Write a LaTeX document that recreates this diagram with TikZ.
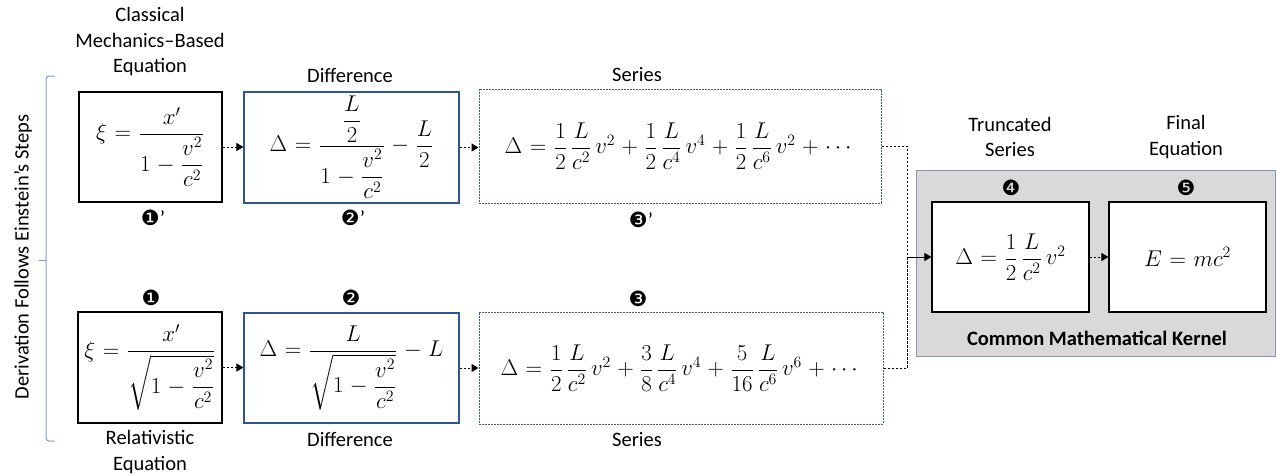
\documentclass[tikz,border=0pt]{standalone}
\usepackage{amsmath}
\usepackage{fontspec}
\setmainfont{Carlito}
\newfontfamily\dingfont{DejaVu Sans}
\usetikzlibrary{arrows.meta}
\definecolor{boxblue}{HTML}{2F5597}
\definecolor{dashblue}{HTML}{3C5A8C}
\definecolor{bracecol}{HTML}{7F9CC8}
\definecolor{kernfill}{HTML}{D9D9D9}
\definecolor{kernline}{HTML}{8497B0}
\newcommand{\circnum}[1]{{\dingfont #1}}
\newcommand{\eqsp}{\thickmuskip=6mu plus 2mu\medmuskip=5mu plus 2mu}
\newcommand{\bigeq}[1]{\scalebox{1.1}{$\eqsp #1$}}
\begin{document}
\begin{tikzpicture}[x=1pt,y=-1pt,
  lbl/.style={font=\fontsize{20.5}{25.5}\selectfont, align=center, inner sep=0pt},
  num/.style={font=\fontsize{21}{24}\selectfont, inner sep=0pt},
  eq/.style={font=\fontsize{20}{24}\selectfont, inner sep=0pt},
  blackbox/.style={eq, draw=black, line width=1.1pt, fill=white},
  bluebox/.style={eq, draw=boxblue, line width=1.1pt},
  dashbox/.style={eq, draw=dashblue, line width=1pt, dash pattern=on 2pt off 1pt},
  conn/.style={line width=1pt, dash pattern=on 2.5pt off 1.5pt},
  tip/.style={-{Triangle[length=7pt,width=8pt]}}
]
\useasboundingbox (0,0) rectangle (1276,475);

% left bracket and side label
\draw[bracecol, line width=1pt, rounded corners=3pt] (55,76) -- (46,76) -- (46,441) -- (55,441);
\draw[bracecol, line width=1pt] (46,260) -- (39,260);
\node[lbl, rotate=90] (side) at (23,257) {Derivation Follows Einstein’s Steps};

% kernel background
\node[draw=kernline, fill=kernfill, line width=1pt, minimum width=359pt, minimum height=186pt, inner sep=0pt] (kern) at (1095.5,263) {};
\node[lbl, font=\fontsize{20.5}{25.5}\selectfont\bfseries] (kernlbl) at (1097,338) {Common Mathematical Kernel};

% top row
\node[blackbox, minimum width=143pt, minimum height=110pt] (b1p) at (150.5,147)
  {\bigeq{\xi=\dfrac{x'}{1-\dfrac{v^2}{c^2}}}};
\node[bluebox, minimum width=215pt, minimum height=111pt] (b2p) at (351.5,147.5)
  {\bigeq{\Delta=\dfrac{\dfrac{L}{2}}{1-\dfrac{v^2}{c^2}}-\dfrac{L}{2}}};
\node[dashbox, minimum width=402pt, minimum height=114pt] (b3p) at (680,146)
  {\bigeq{\Delta=\dfrac{1}{2}\,\dfrac{L}{c^2}\,v^2+\dfrac{1}{2}\,\dfrac{L}{c^4}\,v^4+\dfrac{1}{2}\,\dfrac{L}{c^6}\,v^2+\cdots}};

% bottom row
\node[blackbox, minimum width=144pt, minimum height=111pt] (b1) at (150,367.5)
  {\bigeq{\xi=\dfrac{x'}{\sqrt{1-\dfrac{v^2}{c^2}}}}};
\node[bluebox, minimum width=215pt, minimum height=110pt] (b2) at (351.5,368)
  {\bigeq{\Delta=\dfrac{L}{\sqrt{1-\dfrac{v^2}{c^2}}}-L}};
\node[dashbox, minimum width=404pt, minimum height=112pt] (b3) at (681,368)
  {\bigeq{\Delta=\dfrac{1}{2}\,\dfrac{L}{c^2}\,v^2+\dfrac{3}{8}\,\dfrac{L}{c^4}\,v^4+\dfrac{5}{16}\,\dfrac{L}{c^6}\,v^6+\cdots}};

% kernel boxes
\node[blackbox, minimum width=157pt, minimum height=110pt] (b4) at (1010.5,257)
  {\bigeq{\Delta=\dfrac{1}{2}\,\dfrac{L}{c^2}\,v^2}};
\node[blackbox, minimum width=157pt, minimum height=110pt] (b5) at (1187.5,257)
  {\bigeq{E=mc^2}};

% labels
\node[lbl] (l1p) at (150,42) {Classical\\Mechanics–Based\\Equation};
\node[lbl] (l2p) at (350,75) {Difference};
\node[lbl] (l3p) at (637,75) {Series};
\node[lbl] (l1) at (150,452) {Relativistic\\Equation};
\node[lbl] (l2) at (350,439) {Difference};
\node[lbl] (l3) at (637,440) {Series};
\node[lbl] (l4) at (1010,137) {Truncated\\Series};
\node[lbl] (l5) at (1186,137) {Final\\Equation};

% step numbers
\node[num] (n1p) at (153,218) {\circnum{❶}’};
\node[num] (n2p) at (353,218) {\circnum{❷}’};
\node[num] (n3p) at (641,220) {\circnum{❸}’};
\node[num] (n1) at (151,298) {\circnum{❶}};
\node[num] (n2) at (351,298) {\circnum{❷}};
\node[num] (n3) at (638,299) {\circnum{❸}};
\node[num] (n4) at (1011,188) {\circnum{❹}};
\node[num] (n5) at (1186,188) {\circnum{❺}};

% connectors
\coordinate (j) at (907,257);
\draw[conn, tip] (b1p.east) -- (b1p.east -| b2p.west);
\draw[conn, tip] (b2p.east) -- (b2p.east -| b3p.west);
\draw[conn, tip] (b1.east) -- (b1.east -| b2.west);
\draw[conn, tip] (b2.east) -- (b2.east -| b3.west);
\draw[conn] (b3p.east) -| (j);
\draw[conn] (b3.east) -| (j);
\draw[line width=1pt, tip] (j) -- (b4.west);
\draw[conn, tip] (b4.east) -- (b5.west);
\end{tikzpicture}
\end{document}
